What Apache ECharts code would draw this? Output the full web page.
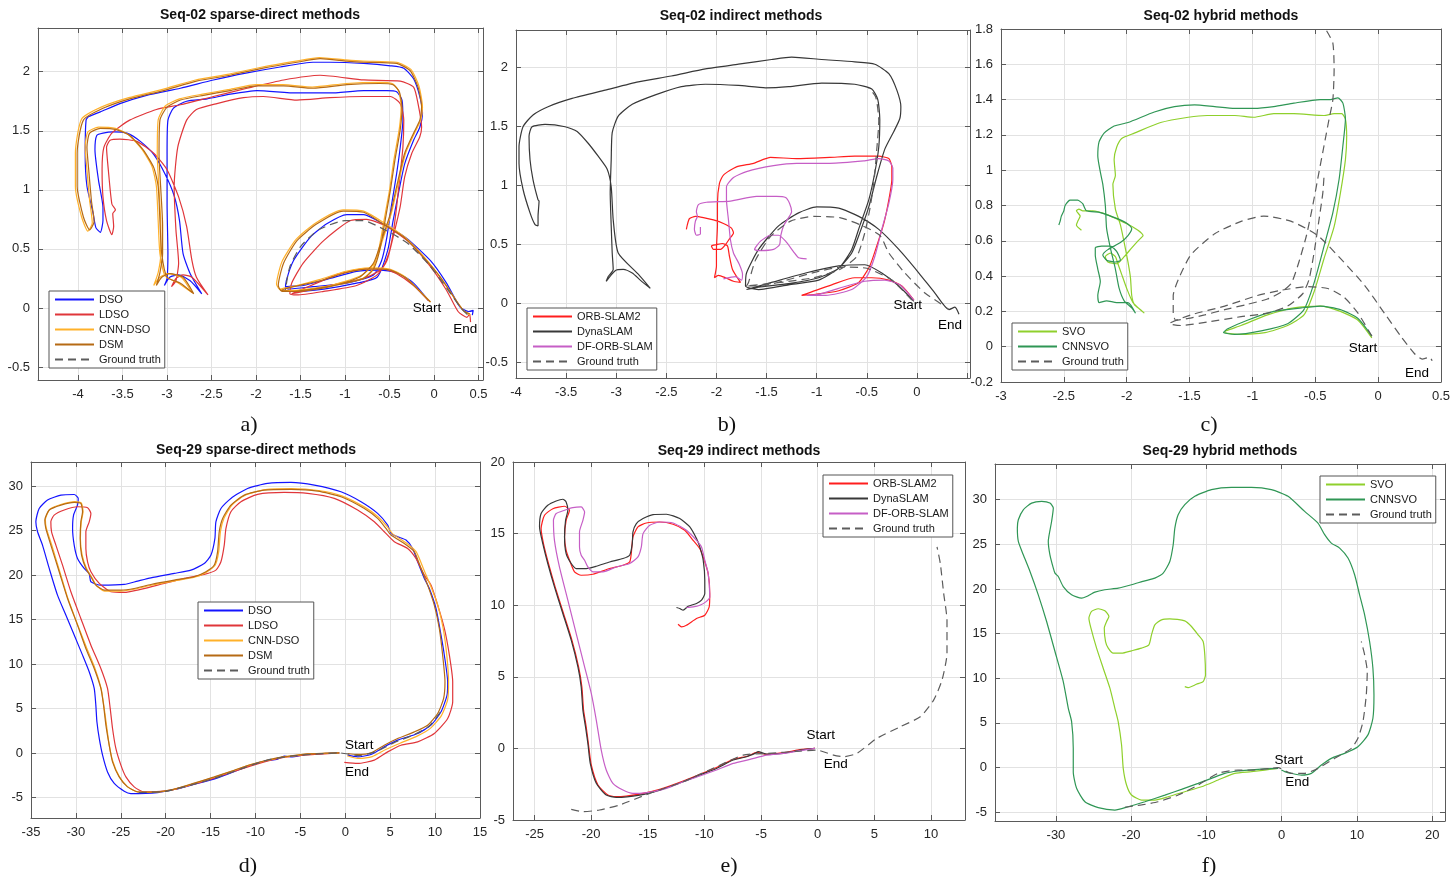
<!DOCTYPE html>
<html>
<head>
<meta charset="utf-8">
<script src="https://cdn.jsdelivr.net/npm/echarts@6.0.0/dist/echarts.min.js"></script>
<style>
  html, body { margin: 0; padding: 0; background: #fff; }
  #chart { width: 1453px; height: 881px; }
</style>
</head>
<body>
<div id="chart"></div>
<script>
// ---- Seq-02 sparse-direct (a) ----
const s02SparseDSO = [[-0.06,0.06],[-0.23,0.21],[-0.42,0.30],[-0.61,0.32],[-0.87,0.31],[-1.17,0.25],[-1.47,0.19],[-1.67,0.18],[-1.64,0.16],[-1.36,0.18],[-0.98,0.21],[-0.68,0.28],[-0.59,0.40],[-0.53,0.60],[-0.48,0.86],[-0.42,1.14],[-0.38,1.36],[-0.35,1.59],[-0.36,1.76],[-0.42,1.83],[-0.53,1.84],[-0.79,1.84],[-1.17,1.82],[-1.54,1.82],[-1.99,1.84],[-2.29,1.81],[-2.55,1.77],[-2.78,1.75],[-2.93,1.69],[-2.99,1.59],[-3.00,1.31],[-3.00,0.88],[-2.99,0.46],[-3.00,0.25],[-3.03,0.19],[-2.97,0.26],[-2.87,0.28],[-2.74,0.23],[-2.61,0.12],[-2.74,0.29],[-2.82,0.46],[-2.86,0.74],[-2.92,0.95],[-3.02,1.13],[-3.15,1.30],[-3.30,1.41],[-3.45,1.48],[-3.60,1.49],[-3.72,1.48],[-3.79,1.46],[-3.81,1.34],[-3.77,1.08],[-3.72,0.85],[-3.72,0.74],[-3.75,0.64],[-3.80,0.68],[-3.83,0.80],[-3.90,1.03],[-3.92,1.31],[-3.91,1.59],[-3.88,1.62],[-3.75,1.66],[-3.53,1.73],[-3.23,1.80],[-2.85,1.86],[-2.48,1.93],[-2.10,1.99],[-1.73,2.04],[-1.36,2.08],[-1.17,2.08],[-0.79,2.07],[-0.49,2.05],[-0.34,2.03],[-0.23,1.94],[-0.16,1.79],[-0.13,1.65],[-0.16,1.53],[-0.23,1.42],[-0.33,1.22],[-0.40,0.97],[-0.46,0.74],[-0.52,0.49],[-0.64,0.26],[-0.87,0.21],[-1.24,0.16],[-1.58,0.14],[-1.67,0.15],[-1.66,0.23],[-1.58,0.40],[-1.39,0.60],[-1.21,0.71],[-0.98,0.79],[-0.79,0.79],[-0.57,0.71],[-0.31,0.59],[-0.04,0.40],[0.14,0.21],[0.29,0.01],[0.39,-0.03],[0.44,-0.02],[0.43,-0.06]];
const s02SparseLDSO = [[-0.06,0.06],[-0.23,0.19],[-0.42,0.29],[-0.57,0.33],[-0.79,0.33],[-1.06,0.29],[-1.32,0.21],[-1.54,0.14],[-1.60,0.12],[-1.47,0.14],[-1.17,0.19],[-0.79,0.25],[-0.59,0.33],[-0.51,0.46],[-0.46,0.63],[-0.42,0.86],[-0.38,1.14],[-0.35,1.36],[-0.34,1.59],[-0.38,1.73],[-0.49,1.79],[-0.79,1.79],[-1.17,1.78],[-1.54,1.76],[-1.92,1.79],[-2.14,1.78],[-2.44,1.73],[-2.67,1.68],[-2.78,1.59],[-2.88,1.36],[-2.92,1.03],[-2.90,0.66],[-2.87,0.38],[-2.90,0.23],[-2.95,0.18],[-2.90,0.25],[-2.82,0.28],[-2.72,0.26],[-2.54,0.11],[-2.67,0.26],[-2.72,0.40],[-2.78,0.69],[-2.87,0.94],[-3.00,1.17],[-3.15,1.31],[-3.34,1.41],[-3.53,1.43],[-3.64,1.42],[-3.68,1.36],[-3.66,1.17],[-3.62,0.88],[-3.58,0.83],[-3.61,0.80],[-3.60,0.69],[-3.62,0.62],[-3.68,0.74],[-3.72,0.94],[-3.73,1.17],[-3.71,1.36],[-3.62,1.48],[-3.42,1.59],[-3.12,1.68],[-2.85,1.72],[-2.48,1.79],[-2.10,1.86],[-1.69,1.93],[-1.28,1.97],[-0.79,1.93],[-0.38,1.92],[-0.23,1.87],[-0.18,1.73],[-0.14,1.53],[-0.16,1.45],[-0.25,1.31],[-0.33,1.11],[-0.38,0.86],[-0.46,0.60],[-0.53,0.40],[-0.64,0.28],[-0.87,0.19],[-1.24,0.14],[-1.54,0.11],[-1.62,0.12],[-1.60,0.21],[-1.47,0.38],[-1.24,0.57],[-0.94,0.74],[-0.76,0.75],[-0.53,0.69],[-0.27,0.55],[-0.04,0.35],[0.14,0.15],[0.27,-0.03],[0.37,-0.08],[0.40,-0.05],[0.41,-0.12]];
const s02SparseCNNDSO = [[-0.04,0.05],[-0.17,0.15],[-0.32,0.26],[-0.50,0.33],[-0.73,0.34],[-0.99,0.31],[-1.29,0.24],[-1.59,0.18],[-1.73,0.16],[-1.63,0.14],[-1.37,0.16],[-1.07,0.20],[-0.80,0.25],[-0.69,0.33],[-0.62,0.50],[-0.56,0.75],[-0.50,1.00],[-0.45,1.26],[-0.39,1.52],[-0.37,1.71],[-0.40,1.84],[-0.47,1.90],[-0.62,1.91],[-0.99,1.90],[-1.37,1.87],[-1.70,1.89],[-2.00,1.89],[-2.30,1.85],[-2.60,1.81],[-2.86,1.77],[-3.02,1.71],[-3.10,1.59],[-3.11,1.30],[-3.09,1.00],[-3.07,0.70],[-3.07,0.46],[-3.10,0.30],[-3.15,0.19],[-3.08,0.26],[-2.99,0.29],[-2.84,0.26],[-2.72,0.13],[-2.87,0.21],[-3.02,0.27],[-3.08,0.46],[-3.10,0.74],[-3.12,1.03],[-3.17,1.20],[-3.29,1.35],[-3.44,1.47],[-3.58,1.52],[-3.77,1.53],[-3.89,1.49],[-3.92,1.36],[-3.90,1.17],[-3.87,0.91],[-3.84,0.72],[-3.89,0.65],[-3.96,0.77],[-4.03,1.03],[-4.03,1.31],[-3.96,1.60],[-3.74,1.70],[-3.43,1.78],[-3.05,1.85],[-2.68,1.93],[-2.30,1.98],[-1.93,2.04],[-1.55,2.09],[-1.29,2.12],[-0.99,2.10],[-0.80,2.09],[-0.42,2.08],[-0.26,2.02],[-0.17,1.88],[-0.13,1.70],[-0.15,1.59],[-0.22,1.48],[-0.32,1.31],[-0.41,1.03],[-0.48,0.80],[-0.58,0.57],[-0.67,0.38],[-0.83,0.27],[-1.17,0.19],[-1.55,0.15],[-1.72,0.15],[-1.77,0.20],[-1.71,0.39],[-1.55,0.58],[-1.33,0.72],[-1.02,0.83],[-0.79,0.82],[-0.56,0.72],[-0.33,0.60],[-0.11,0.43],[0.08,0.25],[0.26,0.05],[0.34,-0.03],[0.41,-0.06]];
const s02SparseDSM = [[-0.04,0.05],[-0.16,0.14],[-0.31,0.25],[-0.49,0.32],[-0.72,0.33],[-0.98,0.30],[-1.28,0.23],[-1.58,0.18],[-1.71,0.15],[-1.62,0.14],[-1.36,0.16],[-1.06,0.20],[-0.79,0.25],[-0.68,0.33],[-0.61,0.49],[-0.55,0.74],[-0.49,1.00],[-0.44,1.25],[-0.38,1.51],[-0.36,1.70],[-0.39,1.83],[-0.46,1.89],[-0.61,1.90],[-0.98,1.89],[-1.36,1.86],[-1.69,1.88],[-1.99,1.88],[-2.29,1.84],[-2.59,1.80],[-2.85,1.76],[-3.00,1.70],[-3.08,1.59],[-3.09,1.30],[-3.07,1.00],[-3.05,0.70],[-3.05,0.46],[-3.08,0.30],[-3.12,0.19],[-3.06,0.26],[-2.97,0.29],[-2.82,0.26],[-2.70,0.12],[-2.85,0.21],[-3.00,0.26],[-3.06,0.46],[-3.08,0.74],[-3.10,1.03],[-3.15,1.19],[-3.27,1.34],[-3.42,1.46],[-3.57,1.51],[-3.75,1.52],[-3.87,1.48],[-3.90,1.36],[-3.88,1.17],[-3.85,0.91],[-3.82,0.73],[-3.87,0.66],[-3.94,0.77],[-4.01,1.03],[-4.01,1.31],[-3.94,1.59],[-3.72,1.69],[-3.42,1.77],[-3.04,1.84],[-2.67,1.92],[-2.29,1.97],[-1.92,2.03],[-1.54,2.08],[-1.28,2.11],[-0.98,2.09],[-0.79,2.08],[-0.42,2.07],[-0.27,2.01],[-0.18,1.87],[-0.14,1.70],[-0.16,1.59],[-0.23,1.48],[-0.33,1.31],[-0.42,1.03],[-0.49,0.80],[-0.59,0.57],[-0.68,0.38],[-0.84,0.26],[-1.17,0.18],[-1.54,0.14],[-1.71,0.14],[-1.75,0.19],[-1.69,0.38],[-1.54,0.57],[-1.32,0.71],[-1.02,0.82],[-0.79,0.81],[-0.57,0.71],[-0.34,0.60],[-0.12,0.43],[0.07,0.26],[0.25,0.06],[0.33,-0.02],[0.40,-0.05]];
const s02SparseGT = [[-1.66,0.20],[-1.62,0.35],[-1.50,0.52],[-1.30,0.66],[-1.00,0.74],[-0.80,0.74],[-0.55,0.66],[-0.30,0.55],[-0.05,0.36],[0.15,0.16],[0.30,0.00],[0.38,-0.06]];
const s02SparseMarks = [[-0.08,0.00,'Start'],[0.35,-0.18,'End']];

// ---- Seq-02 indirect (b) ----
const s02IndORB = [[-0.03,0.03],[-0.15,0.15],[-0.28,0.20],[-0.45,0.22],[-0.62,0.22],[-0.85,0.16],[-1.05,0.10],[-1.15,0.07],[-1.01,0.08],[-0.78,0.11],[-0.58,0.18],[-0.47,0.32],[-0.40,0.49],[-0.33,0.68],[-0.28,0.88],[-0.25,1.05],[-0.25,1.16],[-0.28,1.23],[-0.38,1.25],[-0.62,1.25],[-0.87,1.24],[-1.20,1.23],[-1.46,1.24],[-1.63,1.19],[-1.80,1.16],[-1.93,1.09],[-1.97,1.02],[-1.99,0.85],[-1.99,0.66],[-2.00,0.46],[-2.00,0.32],[-2.02,0.22],[-1.98,0.24],[-1.91,0.22],[-1.83,0.19],[-1.76,0.18],[-1.84,0.29],[-1.87,0.40],[-1.89,0.49],[-1.94,0.51],[-2.00,0.50],[-2.05,0.49],[-2.03,0.46],[-1.96,0.46],[-1.91,0.50],[-1.87,0.55],[-1.83,0.60],[-1.85,0.64],[-1.93,0.68],[-2.03,0.71],[-2.13,0.73],[-2.21,0.74],[-2.27,0.72],[-2.29,0.67],[-2.30,0.63]];
const s02IndDyna = [[-0.03,0.02],[-0.18,0.15],[-0.35,0.26],[-0.52,0.33],[-0.78,0.32],[-1.11,0.26],[-1.45,0.18],[-1.70,0.12],[-1.58,0.14],[-1.28,0.17],[-0.98,0.22],[-0.78,0.30],[-0.65,0.46],[-0.57,0.66],[-0.48,0.88],[-0.42,1.11],[-0.38,1.33],[-0.37,1.56],[-0.39,1.73],[-0.45,1.82],[-0.62,1.86],[-0.95,1.87],[-1.28,1.84],[-1.51,1.83],[-1.78,1.85],[-2.11,1.86],[-2.35,1.84],[-2.61,1.77],[-2.84,1.69],[-2.98,1.59],[-3.04,1.45],[-3.05,1.22],[-3.06,0.94],[-3.05,0.66],[-3.04,0.43],[-3.03,0.29],[-3.08,0.23],[-3.10,0.19],[-3.01,0.28],[-2.93,0.29],[-2.84,0.26],[-2.76,0.20],[-2.66,0.13],[-2.78,0.25],[-2.98,0.43],[-3.03,0.71],[-3.05,0.99],[-3.09,1.14],[-3.18,1.25],[-3.28,1.36],[-3.39,1.46],[-3.51,1.50],[-3.71,1.52],[-3.84,1.50],[-3.87,1.42],[-3.86,1.22],[-3.83,1.05],[-3.78,0.88],[-3.77,0.87],[-3.78,0.74],[-3.78,0.66],[-3.81,0.67],[-3.86,0.77],[-3.93,0.97],[-3.97,1.19],[-3.97,1.33],[-3.93,1.50],[-3.83,1.60],[-3.68,1.67],[-3.44,1.74],[-3.11,1.81],[-2.78,1.88],[-2.45,1.93],[-2.11,1.99],[-1.78,2.03],[-1.45,2.07],[-1.25,2.09],[-0.95,2.07],[-0.62,2.05],[-0.42,2.03],[-0.28,1.95],[-0.20,1.81],[-0.16,1.67],[-0.17,1.57],[-0.23,1.46],[-0.32,1.31],[-0.40,1.08],[-0.48,0.82],[-0.57,0.60],[-0.65,0.43],[-0.78,0.30],[-0.98,0.20],[-1.28,0.16],[-1.58,0.12],[-1.71,0.15],[-1.70,0.26],[-1.58,0.46],[-1.38,0.66],[-1.18,0.77],[-1.00,0.82],[-0.78,0.81],[-0.58,0.74],[-0.38,0.63],[-0.18,0.46],[0.02,0.26],[0.18,0.09],[0.32,-0.05],[0.38,-0.03],[0.42,-0.09]];
const s02IndDF1 = [[-0.03,0.03],[-0.17,0.16],[-0.32,0.20],[-0.52,0.19],[-0.78,0.13],[-0.98,0.08],[-1.10,0.07],[-0.91,0.07],[-0.65,0.12],[-0.50,0.23],[-0.42,0.40],[-0.35,0.63],[-0.28,0.85],[-0.24,1.05],[-0.24,1.15],[-0.28,1.21],[-0.38,1.23],[-0.53,1.21],[-0.87,1.19],[-1.20,1.19],[-1.43,1.17],[-1.70,1.12],[-1.83,1.07],[-1.90,0.99],[-1.90,0.88],[-1.88,0.71],[-1.86,0.54],[-1.83,0.43],[-1.77,0.33],[-1.74,0.25],[-1.75,0.20],[-1.81,0.23],[-1.93,0.21]];
const s02IndDF2 = [[-1.10,0.38],[-1.18,0.39],[-1.23,0.44],[-1.31,0.53],[-1.38,0.58],[-1.46,0.58],[-1.56,0.53],[-1.62,0.46],[-1.56,0.45],[-1.43,0.46],[-1.37,0.50],[-1.36,0.57],[-1.33,0.66],[-1.28,0.73],[-1.25,0.78],[-1.27,0.85],[-1.31,0.90],[-1.40,0.91],[-1.60,0.91],[-1.86,0.87],[-2.10,0.86],[-2.18,0.84],[-2.20,0.78],[-2.19,0.74],[-2.21,0.70],[-2.22,0.63],[-2.20,0.58],[-2.16,0.59],[-2.16,0.65]];
const s02IndGT1 = [[-0.05,0.03],[-0.25,0.20],[-0.50,0.30],[-0.75,0.31],[-1.00,0.27],[-1.30,0.20],[-1.55,0.15],[-1.70,0.15],[-1.36,0.18],[-1.03,0.22],[-0.77,0.29],[-0.60,0.40],[-0.52,0.60],[-0.47,0.80],[-0.43,1.02],[-0.40,1.31],[-0.38,1.55],[-0.41,1.75],[-0.48,1.83]];
const s02IndGT2 = [[-1.70,0.15],[-1.68,0.18],[-1.61,0.37],[-1.46,0.57],[-1.26,0.70],[-1.03,0.74],[-0.77,0.73],[-0.57,0.67],[-0.37,0.58],[-0.28,0.43],[-0.12,0.26],[0.08,0.09],[0.22,0.01],[0.32,-0.05]];
const s02IndMarks = [[-0.09,-0.01,'Start'],[0.33,-0.18,'End']];

// ---- Seq-02 hybrid (c) ----
const s02HybSVO = [[-0.05,0.05],[-0.16,0.15],[-0.30,0.20],[-0.46,0.23],[-0.67,0.22],[-0.88,0.18],[-1.09,0.12],[-1.21,0.09],[-1.22,0.08],[-1.12,0.07],[-0.90,0.08],[-0.72,0.12],[-0.59,0.18],[-0.51,0.31],[-0.43,0.50],[-0.35,0.68],[-0.30,0.87],[-0.26,1.06],[-0.25,1.19],[-0.26,1.29],[-0.29,1.32],[-0.35,1.32],[-0.43,1.31],[-0.67,1.32],[-0.83,1.32],[-0.99,1.30],[-1.14,1.31],[-1.36,1.31],[-1.51,1.30],[-1.73,1.27],[-1.94,1.21],[-2.04,1.18],[-2.08,1.13],[-2.10,1.06],[-2.09,0.97],[-2.11,0.92],[-2.09,0.78],[-2.05,0.69],[-2.02,0.59],[-1.99,0.48],[-1.97,0.39],[-1.96,0.29],[-1.94,0.24],[-1.89,0.21],[-1.86,0.19],[-1.95,0.25],[-2.00,0.33],[-2.04,0.41],[-2.07,0.47],[-2.09,0.51],[-2.13,0.53],[-2.17,0.51],[-2.15,0.48],[-2.08,0.47],[-2.02,0.51],[-1.96,0.56],[-1.91,0.60],[-1.87,0.63],[-1.91,0.66],[-1.98,0.69],[-2.07,0.72],[-2.16,0.75],[-2.27,0.77],[-2.35,0.77],[-2.38,0.78],[-2.40,0.77],[-2.37,0.74],[-2.39,0.71],[-2.40,0.69],[-2.36,0.66]];
const s02HybCNNSVO = [[-0.05,0.06],[-0.16,0.16],[-0.30,0.21],[-0.46,0.23],[-0.61,0.22],[-0.83,0.20],[-1.04,0.15],[-1.20,0.10],[-1.23,0.08],[-1.14,0.07],[-0.93,0.09],[-0.72,0.13],[-0.59,0.21],[-0.51,0.36],[-0.43,0.57],[-0.36,0.76],[-0.31,0.95],[-0.28,1.14],[-0.26,1.29],[-0.28,1.38],[-0.32,1.41],[-0.38,1.40],[-0.46,1.40],[-0.67,1.38],[-0.83,1.36],[-0.99,1.35],[-1.14,1.35],[-1.30,1.36],[-1.46,1.37],[-1.62,1.36],[-1.78,1.33],[-1.99,1.27],[-2.10,1.25],[-2.18,1.21],[-2.22,1.16],[-2.23,1.08],[-2.21,0.99],[-2.19,0.92],[-2.17,0.80],[-2.16,0.67],[-2.13,0.56],[-2.09,0.44],[-2.06,0.33],[-2.02,0.26],[-1.96,0.22],[-1.93,0.19],[-1.99,0.25],[-2.08,0.25],[-2.16,0.26],[-2.22,0.25],[-2.23,0.29],[-2.21,0.37],[-2.23,0.44],[-2.25,0.52],[-2.25,0.56],[-2.20,0.57],[-2.13,0.57],[-2.08,0.54],[-2.05,0.49],[-2.09,0.48],[-2.16,0.49],[-2.19,0.52],[-2.15,0.55],[-2.05,0.59],[-1.99,0.63],[-1.96,0.67],[-2.00,0.70],[-2.09,0.73],[-2.21,0.76],[-2.32,0.77],[-2.35,0.81],[-2.39,0.83],[-2.45,0.83],[-2.49,0.80],[-2.50,0.77],[-2.52,0.74],[-2.53,0.71],[-2.54,0.69]];
const s02HybGT1 = [[-0.05,0.06],[-0.16,0.19],[-0.27,0.28],[-0.40,0.33],[-0.56,0.34],[-0.77,0.32],[-0.96,0.29],[-1.22,0.23],[-1.49,0.18],[-1.66,0.13],[-1.57,0.12],[-1.36,0.14],[-1.09,0.17],[-0.88,0.19],[-0.72,0.23],[-0.60,0.30],[-0.55,0.38],[-0.51,0.53],[-0.47,0.72],[-0.44,0.87],[-0.43,0.97]];
const s02HybGT2 = [[-0.41,1.79],[-0.36,1.72],[-0.35,1.57],[-0.36,1.40],[-0.39,1.29],[-0.43,1.14],[-0.47,0.99],[-0.52,0.80],[-0.57,0.63],[-0.63,0.48],[-0.69,0.36],[-0.77,0.31],[-0.88,0.27],[-1.04,0.24],[-1.22,0.21],[-1.38,0.18],[-1.51,0.16],[-1.61,0.15],[-1.63,0.19],[-1.63,0.29],[-1.59,0.38],[-1.49,0.52],[-1.30,0.64],[-1.09,0.71],[-0.91,0.74],[-0.69,0.71],[-0.48,0.63],[-0.30,0.50],[-0.11,0.35],[0.05,0.19],[0.18,0.06],[0.29,-0.04],[0.35,-0.07],[0.41,-0.06],[0.43,-0.08]];
const s02HybMarks = [[-0.12,-0.01,'Start'],[0.31,-0.15,'End']];

// ---- Seq-29 sparse-direct (d) ----
const s29SparseDSO = [[-0.67,0.02],[-2.34,-0.05],[-4.20,-0.13],[-6.05,-0.43],[-6.80,-0.35],[-7.54,-0.69],[-9.02,-0.91],[-10.51,-1.36],[-11.99,-1.93],[-14.22,-2.79],[-17.19,-3.61],[-19.05,-4.10],[-20.91,-4.44],[-23.88,-4.55],[-24.62,-4.29],[-25.73,-3.42],[-26.48,-2.12],[-27.03,-0.24],[-27.40,1.64],[-27.66,3.51],[-27.78,5.38],[-27.96,7.26],[-28.52,9.13],[-29.26,11.00],[-30.19,13.25],[-31.12,15.50],[-32.05,17.74],[-32.97,20.74],[-33.72,23.36],[-34.27,24.86],[-34.46,25.98],[-34.09,27.48],[-33.16,28.42],[-31.67,28.98],[-30.19,29.05],[-29.74,28.60],[-29.82,27.85],[-30.26,26.73],[-30.37,25.23],[-30.19,23.36],[-29.82,21.86],[-29.08,20.74],[-28.52,20.18],[-28.33,19.24],[-27.22,18.86],[-24.62,18.94],[-23.13,19.32],[-21.65,19.69],[-19.05,20.18],[-17.19,20.55],[-15.71,21.30],[-14.96,22.24],[-14.52,24.11],[-14.41,25.98],[-13.85,27.48],[-12.74,28.61],[-10.88,29.73],[-8.65,30.29],[-6.05,30.41],[-3.45,30.11],[-0.48,29.36],[1.75,28.24],[3.60,26.93],[4.72,25.61],[5.09,24.68],[5.83,24.30],[6.76,23.93],[7.50,22.99],[8.06,21.49],[8.80,19.62],[9.36,18.49],[10.10,16.24],[10.66,13.24],[11.03,10.99],[11.40,7.99],[11.33,6.51],[10.66,4.63],[9.54,3.13],[8.06,2.20],[5.83,1.45],[4.34,0.70],[2.86,-0.16],[1.37,-0.43],[0.26,-0.24]];
const s29SparseLDSO = [[-0.67,0.02],[-2.34,-0.09],[-4.20,-0.20],[-6.42,-0.43],[-7.17,-0.54],[-9.02,-0.99],[-10.51,-1.44],[-12.74,-2.19],[-14.96,-2.94],[-17.94,-3.80],[-20.16,-4.29],[-22.39,-4.37],[-23.51,-3.80],[-24.43,-2.68],[-24.99,-1.36],[-25.55,0.51],[-25.92,2.76],[-26.18,5.01],[-26.48,7.26],[-27.22,9.50],[-28.33,12.12],[-29.45,15.12],[-30.56,18.12],[-31.49,21.11],[-32.23,23.36],[-32.71,24.86],[-32.79,25.98],[-32.42,26.73],[-31.30,27.30],[-29.82,27.67],[-28.70,27.56],[-28.33,26.92],[-28.52,25.98],[-28.89,24.86],[-28.89,22.99],[-28.70,21.49],[-28.33,20.37],[-27.40,19.06],[-26.10,18.12],[-24.62,18.04],[-23.13,18.31],[-20.91,18.87],[-17.94,19.62],[-15.71,20.07],[-14.41,20.55],[-13.85,21.49],[-13.48,23.36],[-13.29,25.23],[-12.74,27.11],[-11.62,28.23],[-9.77,29.06],[-6.80,29.28],[-4.20,29.17],[-1.23,28.61],[1.37,27.30],[3.23,25.98],[4.34,24.86],[5.46,23.74],[6.94,22.99],[7.87,21.86],[8.80,19.99],[9.54,18.87],[10.29,16.62],[11.03,14.00],[11.59,11.00],[11.96,8.00],[11.96,5.75],[11.40,3.88],[9.91,2.20],[8.06,1.26],[6.20,0.88],[4.72,0.13],[3.23,-0.80],[1.37,-1.17],[-0.11,-1.06]];
const s29SparseCNNDSO = [[-0.67,0.02],[-2.30,-0.04],[-4.20,-0.10],[-6.20,-0.37],[-7.00,-0.46],[-8.90,-0.87],[-10.50,-1.31],[-12.40,-1.96],[-14.60,-2.72],[-17.20,-3.54],[-19.40,-4.18],[-21.70,-4.43],[-23.20,-4.35],[-24.30,-3.75],[-25.20,-2.60],[-25.90,-0.90],[-26.30,0.95],[-26.60,3.20],[-26.90,5.40],[-27.20,7.30],[-27.90,9.60],[-28.80,11.80],[-29.80,14.40],[-30.90,17.40],[-31.80,20.40],[-32.70,23.40],[-33.30,25.30],[-33.40,26.20],[-32.90,27.40],[-31.60,27.95],[-30.10,28.25],[-29.40,28.10],[-29.20,27.10],[-29.40,26.00],[-29.50,24.10],[-29.30,22.20],[-28.80,20.70],[-28.20,19.70],[-27.70,18.80],[-26.80,18.20],[-25.00,18.20],[-23.50,18.40],[-21.60,18.85],[-19.00,19.35],[-16.80,19.75],[-15.50,20.30],[-14.50,21.10],[-14.10,22.60],[-13.90,24.90],[-13.50,26.40],[-12.60,27.90],[-11.10,29.00],[-8.90,29.60],[-6.00,29.70],[-3.00,29.50],[-0.40,28.90],[2.20,27.60],[3.70,26.50],[4.70,25.40],[5.30,24.60],[6.80,23.60],[7.90,22.60],[8.70,20.70],[9.50,18.80],[10.30,16.60],[10.90,14.00],[11.30,11.00],[11.50,8.00],[11.40,6.00],[10.70,4.20],[9.50,2.80],[8.00,1.90],[6.10,1.10],[4.50,0.40],[3.00,-0.40],[1.40,-0.60],[0.20,-0.30]];
const s29SparseDSM = [[-0.67,0.02],[-2.34,-0.02],[-4.20,-0.09],[-6.24,-0.35],[-6.98,-0.43],[-8.84,-0.84],[-10.51,-1.29],[-12.37,-1.93],[-14.59,-2.68],[-17.19,-3.50],[-19.42,-4.14],[-21.65,-4.40],[-23.13,-4.37],[-24.25,-3.80],[-25.18,-2.68],[-25.92,-0.99],[-26.29,0.88],[-26.66,3.13],[-26.92,5.38],[-27.22,7.26],[-27.96,9.50],[-28.89,11.75],[-29.82,14.37],[-30.93,17.37],[-31.86,20.37],[-32.79,23.36],[-33.35,25.23],[-33.46,26.17],[-32.97,27.30],[-31.67,27.86],[-30.19,28.16],[-29.45,28.04],[-29.26,27.11],[-29.45,25.98],[-29.52,24.11],[-29.37,22.24],[-28.89,20.74],[-28.33,19.81],[-27.78,18.87],[-26.85,18.31],[-24.99,18.31],[-23.51,18.49],[-21.65,18.94],[-19.05,19.43],[-16.82,19.81],[-15.52,20.37],[-14.59,21.12],[-14.22,22.62],[-14.04,24.86],[-13.66,26.36],[-12.74,27.86],[-11.25,28.98],[-9.02,29.54],[-6.05,29.62],[-3.08,29.43],[-0.48,28.80],[2.12,27.48],[3.60,26.36],[4.53,25.23],[5.09,24.49],[6.57,23.55],[7.69,22.62],[8.43,20.74],[9.17,18.87],[9.91,16.62],[10.47,14.00],[10.84,11.00],[11.10,8.00],[10.95,6.13],[10.29,4.44],[9.17,3.13],[7.69,2.38],[5.83,1.63],[4.34,0.88],[2.86,0.02],[1.37,-0.16],[0.26,-0.05]];
const s29SparseGT = [[-23.0,-4.45],[-20.0,-4.30],[-17.0,-3.55],[-14.0,-2.65],[-11.0,-1.55],[-8.5,-0.75],[-6.0,-0.35],[-3.0,-0.10],[-0.7,0.02],[1.5,-0.30],[3.5,0.20],[5.5,1.20],[7.5,2.00],[9.3,3.00],[10.6,4.60]];
const s29SparseMarks = [[1.56,0.88,'Start'],[1.30,-2.11,'End']];

// ---- Seq-29 indirect (e) ----
const s29IndORB = [[-0.24,0],[-1.56,-0.09],[-3.04,-0.30],[-4.51,-0.42],[-5.40,-0.28],[-6.13,-0.53],[-7.46,-0.77],[-8.94,-1.33],[-10.41,-1.81],[-11.88,-2.28],[-13.95,-2.86],[-15.72,-3.19],[-17.78,-3.37],[-18.52,-3.26],[-19.40,-2.56],[-19.99,-1.16],[-20.23,0.23],[-20.44,1.51],[-20.67,2.67],[-20.82,4.30],[-21.11,5.70],[-21.70,7.56],[-22.44,9.42],[-23.18,11.28],[-23.77,12.91],[-24.21,14.30],[-24.42,15.35],[-24.12,16.28],[-23.38,16.74],[-22.35,16.91],[-21.91,16.63],[-22.21,15.93],[-22.35,14.77],[-22.21,13.84],[-21.91,13.14],[-21.47,12.33],[-20.88,12.09],[-19.85,12.16],[-18.37,12.56],[-17.19,12.79],[-16.60,13.02],[-16.46,13.60],[-16.31,14.77],[-15.87,15.47],[-15.13,15.74],[-13.95,15.81],[-12.77,15.65],[-11.74,15.23],[-11.00,14.53],[-10.41,13.95],[-10.11,13.37],[-9.67,12.21],[-9.53,10.81],[-9.58,9.88],[-9.97,9.30],[-10.70,9.07],[-11.59,8.60],[-12.03,8.49],[-12.33,8.67]];
const s29IndDyna = [[-0.24,0],[-1.56,-0.12],[-3.04,-0.35],[-4.51,-0.40],[-5.25,-0.23],[-5.54,-0.35],[-6.28,-0.58],[-7.46,-0.81],[-8.94,-1.40],[-10.41,-1.86],[-11.88,-2.33],[-13.95,-2.91],[-15.72,-3.26],[-17.78,-3.42],[-18.67,-3.26],[-19.55,-2.44],[-20.08,-1.05],[-20.29,0.35],[-20.50,1.51],[-20.73,2.67],[-20.88,4.30],[-21.17,5.70],[-21.76,7.56],[-22.50,9.42],[-23.24,11.28],[-23.83,12.91],[-24.27,14.30],[-24.56,15.47],[-24.42,16.40],[-23.83,16.98],[-23.09,17.28],[-22.50,17.40],[-22.21,17.21],[-22.06,16.63],[-22.26,15.93],[-22.35,14.77],[-22.21,13.60],[-21.76,12.91],[-21.32,12.56],[-20.44,12.56],[-19.55,12.72],[-18.37,13.02],[-17.19,13.26],[-16.60,13.49],[-16.37,14.30],[-16.31,15.12],[-16.01,15.70],[-15.42,16.05],[-14.54,16.33],[-13.36,16.35],[-12.18,16.05],[-11.29,15.47],[-10.70,14.65],[-10.41,14.07],[-10.11,13.14],[-9.97,11.74],[-9.97,10.81],[-10.26,10.35],[-10.70,10.12],[-11.44,9.93],[-11.88,9.65],[-12.18,9.77],[-12.47,9.84]];
const s29IndDF = [[-0.24,0],[-1.56,-0.16],[-3.04,-0.35],[-4.51,-0.47],[-5.99,-0.77],[-7.46,-1.05],[-8.94,-1.51],[-10.41,-1.93],[-11.88,-2.33],[-13.36,-2.79],[-14.54,-3.02],[-15.72,-3.14],[-16.31,-3.14],[-17.19,-2.91],[-18.08,-2.44],[-18.67,-1.51],[-19.11,-0.12],[-19.55,1.98],[-19.99,3.84],[-20.58,5.70],[-21.32,8.02],[-22.06,10.35],[-22.80,12.67],[-23.24,14.53],[-23.33,15.93],[-23.09,16.40],[-22.35,16.63],[-21.62,16.81],[-20.88,16.86],[-20.58,16.51],[-20.73,15.93],[-21.03,15.12],[-21.03,14.07],[-20.88,13.49],[-20.58,13.14],[-20.29,12.67],[-19.85,12.33],[-18.96,12.33],[-17.78,12.67],[-16.60,12.91],[-15.87,13.37],[-15.57,14.07],[-15.42,15.00],[-14.83,15.58],[-13.95,15.81],[-12.77,15.74],[-11.59,15.23],[-10.70,14.53],[-10.26,14.07],[-9.97,13.14],[-9.67,12.21],[-9.53,10.58],[-9.88,10.23],[-10.41,10.00],[-11.00,9.88],[-11.59,9.84]];
const s29IndGT = [[-21.76,-4.26],[-20.73,-4.42],[-19.26,-4.30],[-17.49,-3.95],[-14.83,-3.14],[-11.88,-2.33],[-8.94,-1.28],[-6.58,-0.47],[-4.51,-0.35],[-1.56,-0.19],[-0.09,-0.12],[1.39,-0.47],[2.27,-0.58],[3.45,-0.35],[5.22,0.70],[7.28,1.51],[9.05,2.21],[10.23,3.37],[10.97,4.77],[11.41,6.63],[11.41,8.95],[11.12,10.81],[10.82,12.91],[10.53,14.07]];
const s29IndMarks = [[0.27,0.93,'Start'],[1.59,-1.09,'End']];

// ---- Seq-29 hybrid (f) ----
const s29HybSVO = [[-0.49,-0.10],[-2.26,-0.29],[-4.03,-0.47],[-6.24,-0.66],[-8.45,-1.41],[-10.66,-2.16],[-12.88,-2.72],[-15.09,-3.28],[-16.86,-3.65],[-18.63,-3.65],[-19.96,-3.09],[-20.62,-1.97],[-21.06,-0.10],[-21.28,2.52],[-21.73,5.14],[-22.17,6.63],[-22.83,8.88],[-23.72,11.12],[-24.60,13.37],[-25.35,15.61],[-25.62,16.73],[-25.27,17.48],[-24.38,17.78],[-23.50,17.55],[-22.96,16.92],[-23.27,16.35],[-23.58,15.61],[-23.41,14.11],[-23.05,13.37],[-22.39,12.80],[-21.28,12.80],[-19.96,13.07],[-18.63,13.37],[-17.65,13.74],[-17.30,14.86],[-16.86,15.98],[-15.97,16.54],[-14.87,16.65],[-12.88,16.43],[-11.99,15.79],[-11.11,14.86],[-10.44,14.11],[-10.22,12.61],[-10.13,10.37],[-10.44,9.62],[-11.33,9.32],[-12.43,8.95],[-12.88,9.06]];
const s29HybCNNSVO = [[-0.49,-0.10],[-2.26,-0.17],[-4.03,-0.28],[-5.80,-0.40],[-7.57,-0.66],[-9.34,-1.22],[-11.11,-1.78],[-13.32,-2.46],[-15.53,-3.10],[-18.19,-3.84],[-20.40,-4.40],[-22.17,-4.78],[-24.38,-4.51],[-26.15,-3.84],[-27.26,-2.34],[-27.70,-0.47],[-27.70,2.14],[-27.92,5.14],[-28.36,6.63],[-29.03,9.62],[-30.13,12.99],[-31.24,16.35],[-32.35,19.34],[-33.45,21.96],[-34.34,23.83],[-35.00,25.32],[-35.13,26.82],[-35.00,27.75],[-34.34,28.87],[-33.23,29.62],[-31.90,29.81],[-30.80,29.62],[-30.35,29.06],[-30.58,27.56],[-31.02,25.32],[-30.80,23.83],[-30.35,22.33],[-30.13,21.77],[-29.69,21.39],[-29.03,20.27],[-27.92,19.34],[-26.59,18.97],[-25.93,19.16],[-24.82,19.65],[-23.50,19.91],[-21.73,20.09],[-19.96,20.47],[-18.19,20.91],[-16.86,21.21],[-15.75,21.77],[-14.87,23.08],[-14.42,24.95],[-14.20,26.82],[-13.76,28.32],[-12.88,29.44],[-11.55,30.38],[-9.34,31.12],[-6.68,31.38],[-4.03,31.38],[-1.37,31.12],[0.84,30.38],[3.05,28.69],[4.82,27.38],[5.71,26.08],[6.59,25.14],[7.70,24.58],[8.81,23.46],[9.69,21.59],[10.35,19.34],[11.02,17.10],[11.68,14.11],[12.12,11.12],[12.26,8.13],[12.12,5.51],[11.46,3.65],[10.13,2.33],[8.36,1.58],[6.59,1.02],[5.27,0.27],[3.94,-0.66],[2.61,-0.85],[1.28,-0.66],[0.40,-0.47],[-0.04,-0.29]];
const s29HybGT = [[-20.84,-4.46],[-18.63,-4.20],[-16.42,-3.84],[-13.76,-3.09],[-11.11,-1.97],[-8.45,-0.66],[-5.80,-0.29],[-4.03,-0.29],[-1.37,-0.10],[-0.49,-0.03],[1.28,-0.66],[3.05,-0.66],[4.82,-0.10],[7.04,1.02],[9.25,2.14],[10.13,3.27],[10.80,5.14],[11.24,8.13],[11.37,10.75],[11.02,12.62],[10.58,14.11]];
const s29HybMarks = [[0.93,0.83,'Start'],[2.08,-1.71,'End']];

// ---- tick values ----
const xTicksA = [-4,-3.5,-3,-2.5,-2,-1.5,-1,-0.5,0,0.5];
const yTicksA = [-0.5,0,0.5,1,1.5,2];
const xTicksB = [-4,-3.5,-3,-2.5,-2,-1.5,-1,-0.5,0,0.5];
const xLabelsB = [-4,-3.5,-3,-2.5,-2,-1.5,-1,-0.5,0];
const yTicksB = [-0.5,0,0.5,1,1.5,2];
const xTicksC = [-3,-2.5,-2,-1.5,-1,-0.5,0,0.5];
const yTicksC = [-0.2,0,0.2,0.4,0.6,0.8,1,1.2,1.4,1.6,1.8];
const xTicksD = [-35,-30,-25,-20,-15,-10,-5,0,5,10,15];
const yTicksD = [-5,0,5,10,15,20,25,30];
const xTicksE = [-25,-20,-15,-10,-5,0,5,10];
const yTicksE = [-5,0,5,10,15,20];
const xTicksF = [-30,-20,-10,0,10,20];
const yTicksF = [-5,0,5,10,15,20,25,30];

const FONT = '"Liberation Sans", Arial, Helvetica, sans-serif';
const AXIS_COLOR = '#5a5a5a';
const GRID_COLOR = '#e2e2e2';
const C = {
  DSO: '#1414ff', LDSO: '#e0363a', CNNDSO: '#ffb12a', DSM: '#b66a14',
  ORB: '#ff1e1e', DYNA: '#383838', DF: '#c65ec6',
  SVO: '#8fd02c', CNNSVO: '#2f9655', GT: '#5c5c5c',
};

const panels = [
  { grid: { left: 38, top: 28, width: 445, height: 352 }, xr: [-4.45, 0.55], yr: [-0.61, 2.37],
    xt: xTicksA, xl: xTicksA, yt: yTicksA, yl: yTicksA,
    title: 'Seq-02 sparse-direct methods', tx: 260, ty: 15, tag: 'a)', gx: 249, gy: 425 },
  { grid: { left: 516, top: 30, width: 454, height: 348 }, xr: [-4, 0.53], yr: [-0.63, 2.32],
    xt: xTicksB, xl: xLabelsB, yt: yTicksB, yl: yTicksB,
    title: 'Seq-02 indirect methods', tx: 741, ty: 16, tag: 'b)', gx: 727, gy: 425 },
  { grid: { left: 1001, top: 29, width: 441, height: 353 }, xr: [-3, 0.5], yr: [-0.2, 1.8],
    xt: xTicksC, xl: xTicksC, yt: yTicksC, yl: yTicksC,
    title: 'Seq-02 hybrid methods', tx: 1221, ty: 16, tag: 'c)', gx: 1209, gy: 425 },
  { grid: { left: 31, top: 462, width: 449, height: 356 }, xr: [-35, 15], yr: [-7.3, 32.7],
    xt: xTicksD, xl: xTicksD, yt: yTicksD, yl: yTicksD,
    title: 'Seq-29 sparse-direct methods', tx: 256, ty: 450, tag: 'd)', gx: 248, gy: 866 },
  { grid: { left: 513, top: 462, width: 452, height: 358 }, xr: [-26.9, 13], yr: [-5, 20],
    xt: xTicksE, xl: xTicksE, yt: yTicksE, yl: yTicksE,
    title: 'Seq-29 indirect methods', tx: 739, ty: 451, tag: 'e)', gx: 729, gy: 866 },
  { grid: { left: 995, top: 464, width: 450, height: 357 }, xr: [-38.1, 21.7], yr: [-6, 34],
    xt: xTicksF, xl: xTicksF, yt: yTicksF, yl: yTicksF,
    title: 'Seq-29 hybrid methods', tx: 1220, ty: 451, tag: 'f)', gx: 1209, gy: 866 },
];

function fmt(v) { return String(+(+v).toFixed(2)); }

function axes(gi, range, ticks, labels, isX) {
  const base = {
    type: 'value', gridIndex: gi, min: range[0], max: range[1],
    axisLine: { show: true, onZero: false, lineStyle: { color: AXIS_COLOR, width: 1 } },
    axisTick: { show: true, inside: true, length: 5, customValues: ticks, lineStyle: { color: AXIS_COLOR } },
    splitLine: { show: false },
    axisLabel: { show: false },
    axisPointer: { show: false },
  };
  const main = Object.assign({}, base, {
    position: isX ? 'bottom' : 'left',
    splitLine: { show: true, lineStyle: { color: GRID_COLOR, width: 1 } },
    axisLabel: { show: true, customValues: labels, formatter: fmt, color: '#262626', fontSize: 13, fontFamily: FONT, margin: 8 },
  });
  const mirror = Object.assign({}, base, { position: isX ? 'top' : 'right' });
  return [main, mirror];
}

function trail(name, data, color, gi, dashed) {
  return {
    type: 'line', name, data, xAxisIndex: gi * 2, yAxisIndex: gi * 2,
    symbol: 'none', showSymbol: false, smooth: 0.2, silent: true,
    lineStyle: { color, width: 1.2, type: dashed ? [8, 5] : 'solid' },
    itemStyle: { color },
  };
}

// Start / End annotations, placed in data coordinates
function marks(data, gi) {
  return {
    type: 'scatter', data, xAxisIndex: gi * 2, yAxisIndex: gi * 2, silent: true,
    symbol: 'circle', symbolSize: 2, itemStyle: { color: 'rgba(255,255,255,0)' },
    z: 10,
    label: { show: true, position: 'inside', formatter: p => p.value[2], color: '#000', opacity: 1, fontSize: 13.5, fontFamily: FONT },
    labelLayout: { hideOverlap: false },
  };
}

function legendAt(left, top, names) {
  return {
    left, top, orient: 'vertical', data: names, selectedMode: false,
    itemWidth: 39, itemHeight: 13, itemGap: 2, padding: [2, 4, 2, 5],
    borderColor: '#555', borderWidth: 1, borderRadius: 0, backgroundColor: '#fff',
    itemStyle: { opacity: 0 },
    textStyle: { fontSize: 11, fontFamily: FONT, color: '#1a1a1a', lineHeight: 13 },
  };
}

const series = [
  trail('DSO', s02SparseDSO, C.DSO, 0),
  trail('LDSO', s02SparseLDSO, C.LDSO, 0),
  trail('CNN-DSO', s02SparseCNNDSO, C.CNNDSO, 0),
  trail('DSM', s02SparseDSM, C.DSM, 0),
  trail('Ground truth', s02SparseGT, C.GT, 0, true),
  marks(s02SparseMarks, 0),

  trail('ORB-SLAM2', s02IndORB, C.ORB, 1),
  trail('DynaSLAM', s02IndDyna, C.DYNA, 1),
  trail('DF-ORB-SLAM', s02IndDF1, C.DF, 1),
  trail('DF-ORB-SLAM', s02IndDF2, C.DF, 1),
  trail('Ground truth', s02IndGT1, C.GT, 1, true),
  trail('Ground truth', s02IndGT2, C.GT, 1, true),
  marks(s02IndMarks, 1),

  trail('SVO', s02HybSVO, C.SVO, 2),
  trail('CNNSVO', s02HybCNNSVO, C.CNNSVO, 2),
  trail('Ground truth', s02HybGT1, C.GT, 2, true),
  trail('Ground truth', s02HybGT2, C.GT, 2, true),
  marks(s02HybMarks, 2),

  trail('DSO', s29SparseDSO, C.DSO, 3),
  trail('LDSO', s29SparseLDSO, C.LDSO, 3),
  trail('CNN-DSO', s29SparseCNNDSO, C.CNNDSO, 3),
  trail('DSM', s29SparseDSM, C.DSM, 3),
  trail('Ground truth', s29SparseGT, C.GT, 3, true),
  marks(s29SparseMarks, 3),

  trail('ORB-SLAM2', s29IndORB, C.ORB, 4),
  trail('DynaSLAM', s29IndDyna, C.DYNA, 4),
  trail('DF-ORB-SLAM', s29IndDF, C.DF, 4),
  trail('Ground truth', s29IndGT, C.GT, 4, true),
  marks(s29IndMarks, 4),

  trail('SVO', s29HybSVO, C.SVO, 5),
  trail('CNNSVO', s29HybCNNSVO, C.CNNSVO, 5),
  trail('Ground truth', s29HybGT, C.GT, 5, true),
  marks(s29HybMarks, 5),
];

const xAxis = [], yAxis = [];
panels.forEach((p, i) => {
  xAxis.push(...axes(i, p.xr, p.xt, p.xl, true));
  yAxis.push(...axes(i, p.yr, p.yt, p.yl, false));
});

const graphic = [];
panels.forEach(p => {
  graphic.push({ type: 'text', x: p.tx, y: p.ty, silent: true,
    style: { text: p.title, font: 'bold 14px ' + FONT, fill: '#111', align: 'center', verticalAlign: 'middle' } });
  graphic.push({ type: 'text', x: p.gx, y: p.gy, silent: true,
    style: { text: p.tag, font: '22px "Liberation Serif", "DejaVu Serif", serif', fill: '#111', align: 'center', verticalAlign: 'middle' } });
});

const chart = echarts.init(document.getElementById('chart'), null, { renderer: 'canvas', width: 1453, height: 881 });
chart.setOption({
  animation: false,
  backgroundColor: '#fff',
  grid: panels.map(p => Object.assign({ containLabel: false }, p.grid)),
  xAxis, yAxis,
  legend: [
    legendAt(49, 291, ['DSO', 'LDSO', 'CNN-DSO', 'DSM', 'Ground truth']),
    legendAt(527, 308, ['ORB-SLAM2', 'DynaSLAM', 'DF-ORB-SLAM', 'Ground truth']),
    legendAt(1012, 323, ['SVO', 'CNNSVO', 'Ground truth']),
    legendAt(198, 602, ['DSO', 'LDSO', 'CNN-DSO', 'DSM', 'Ground truth']),
    legendAt(823, 475, ['ORB-SLAM2', 'DynaSLAM', 'DF-ORB-SLAM', 'Ground truth']),
    legendAt(1320, 476, ['SVO', 'CNNSVO', 'Ground truth']),
  ],
  graphic,
  series,
});
</script>
</body>
</html>
